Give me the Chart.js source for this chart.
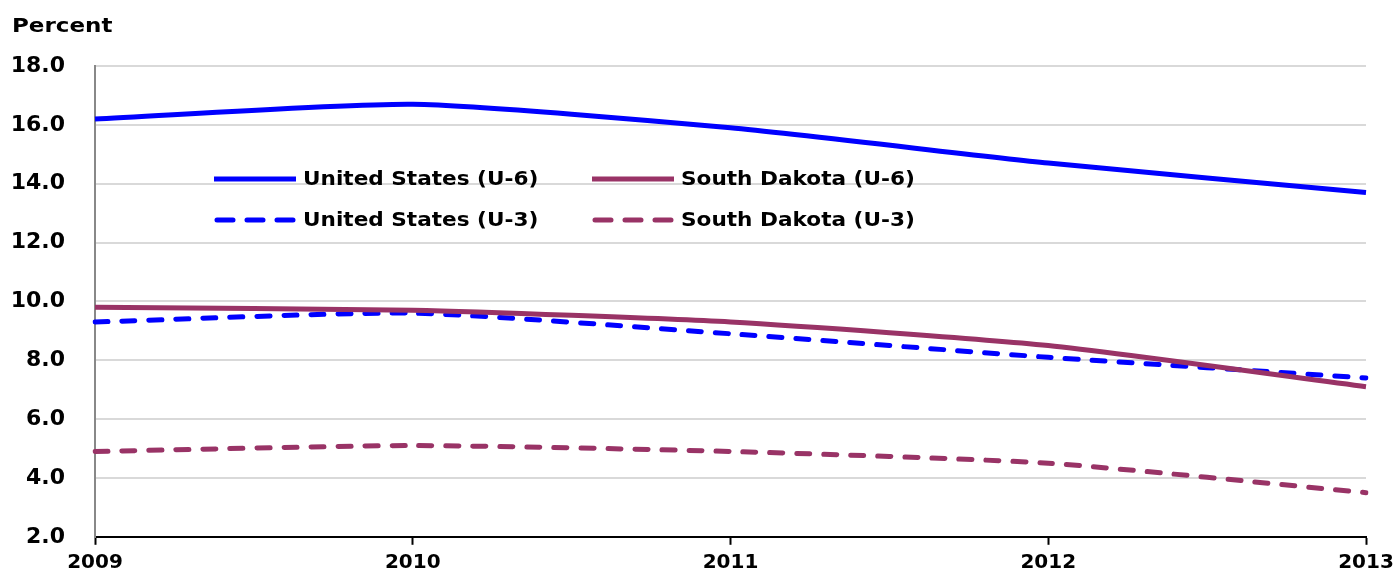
<!DOCTYPE html>
<html>
<head>
<meta charset="utf-8">
<script src="https://cdn.jsdelivr.net/npm/chart.js@4/dist/chart.umd.min.js"></script>
<style>
    html, body { margin: 0; padding: 0; background: #fff; }
    #wrap { width: 1397px; height: 580px; }
</style>
</head>
<body>
<div id="wrap"><canvas id="rateChart" width="1397" height="580"></canvas></div>
<script>
const years = ["2009", "2010", "2011", "2012", "2013"];

const usU6 = [16.2, 16.7, 15.9, 14.7, 13.7];
const sdU6 = [9.8, 9.7, 9.3, 8.5, 7.1];
const usU3 = [9.3, 9.6, 8.9, 8.1, 7.4];
const sdU3 = [4.9, 5.1, 4.9, 4.5, 3.5];

const blue = "#0000ff";
const maroon = "#993366";

function makeSeries(label, data, color, dashed) {
    return {
        label: label,
        data: data,
        borderColor: color,
        backgroundColor: color,
        borderWidth: 5,
        borderDash: dashed ? [13, 14] : [],
        borderCapStyle: dashed ? "round" : "butt",
        pointRadius: 0,
        tension: 0.2,
        fill: false
    };
}

// legend sits inside the plot, two columns by two rows
const insideLegend = {
    id: "insideLegend",
    afterDraw(chart) {
        const ctx = chart.ctx;
        const sets = chart.data.datasets;
        const spots = [
            { x: 214, y: 179 },
            { x: 592, y: 179 },
            { x: 214, y: 220 },
            { x: 592, y: 220 }
        ];
        ctx.save();
        ctx.textBaseline = "middle";
        sets.forEach((ds, i) => {
            const p = spots[i];
            const dashed = ds.borderDash.length > 0;
            ctx.strokeStyle = ds.borderColor;
            ctx.lineWidth = 5;
            ctx.lineCap = dashed ? "round" : "butt";
            ctx.setLineDash(dashed ? [16, 14] : []);
            ctx.beginPath();
            ctx.moveTo(p.x + (dashed ? 3 : 0), p.y);
            ctx.lineTo(p.x + 82, p.y);
            ctx.stroke();
            ctx.setLineDash([]);
            ctx.fillStyle = "#000";
            ctx.font = "bold 20px 'DejaVu Sans'";
            ctx.save();
            ctx.translate(p.x + 89, p.y + 1);
            ctx.scale(1.08, 1);
            ctx.fillText(ds.label, 0, 0);
            ctx.restore();
        });
        // axis caption
        ctx.font = "bold 20px 'DejaVu Sans'";
        ctx.textBaseline = "alphabetic";
        ctx.translate(12, 32);
        ctx.scale(1.15, 1);
        ctx.fillText("Percent", 0, 0);
        ctx.restore();
    }
};

new Chart(
    document.getElementById("rateChart"),
    {
        type: "line",
        data: {
            labels: years,
            datasets: [
                makeSeries("United States (U-6)", usU6, blue, false),
                makeSeries("South Dakota (U-6)", sdU6, maroon, false),
                makeSeries("United States (U-3)", usU3, blue, true),
                makeSeries("South Dakota (U-3)", sdU3, maroon, true)
            ]
        },
        options: {
            responsive: false,
            animation: false,
            layout: {
                padding: { top: 66, right: 31, left: 0, bottom: 0 }
            },
            plugins: {
                legend: { display: false },
                tooltip: { enabled: false }
            },
            scales: {
                x: {
                    offset: false,
                    grid: {
                        drawOnChartArea: false,
                        drawTicks: true,
                        tickLength: 8,
                        tickWidth: 2,
                        tickColor: "#000"
                    },
                    border: { color: "#000", width: 2 },
                    ticks: {
                        color: "#000",
                        padding: 6,
                        maxRotation: 0,
                        font: { family: "'DejaVu Sans'", size: 20, weight: "bold" }
                    },
                    afterFit(scale) {
                        scale.height = 41;
                        scale.paddingLeft = 0;
                        scale.paddingRight = 0;
                    }
                },
                y: {
                    min: 2,
                    max: 18,
                    grid: {
                        color: "#d9d9d9",
                        lineWidth: 2,
                        drawTicks: false
                    },
                    border: { color: "#888", width: 2 },
                    ticks: {
                        stepSize: 2,
                        color: "#000",
                        padding: 30,
                        callback: v => v.toFixed(1),
                        font: { family: "'DejaVu Sans'", size: 22, weight: "bold" }
                    },
                    afterFit(scale) { scale.width = 95; }
                }
            }
        },
        plugins: [insideLegend]
    }
);
</script>
</body>
</html>
